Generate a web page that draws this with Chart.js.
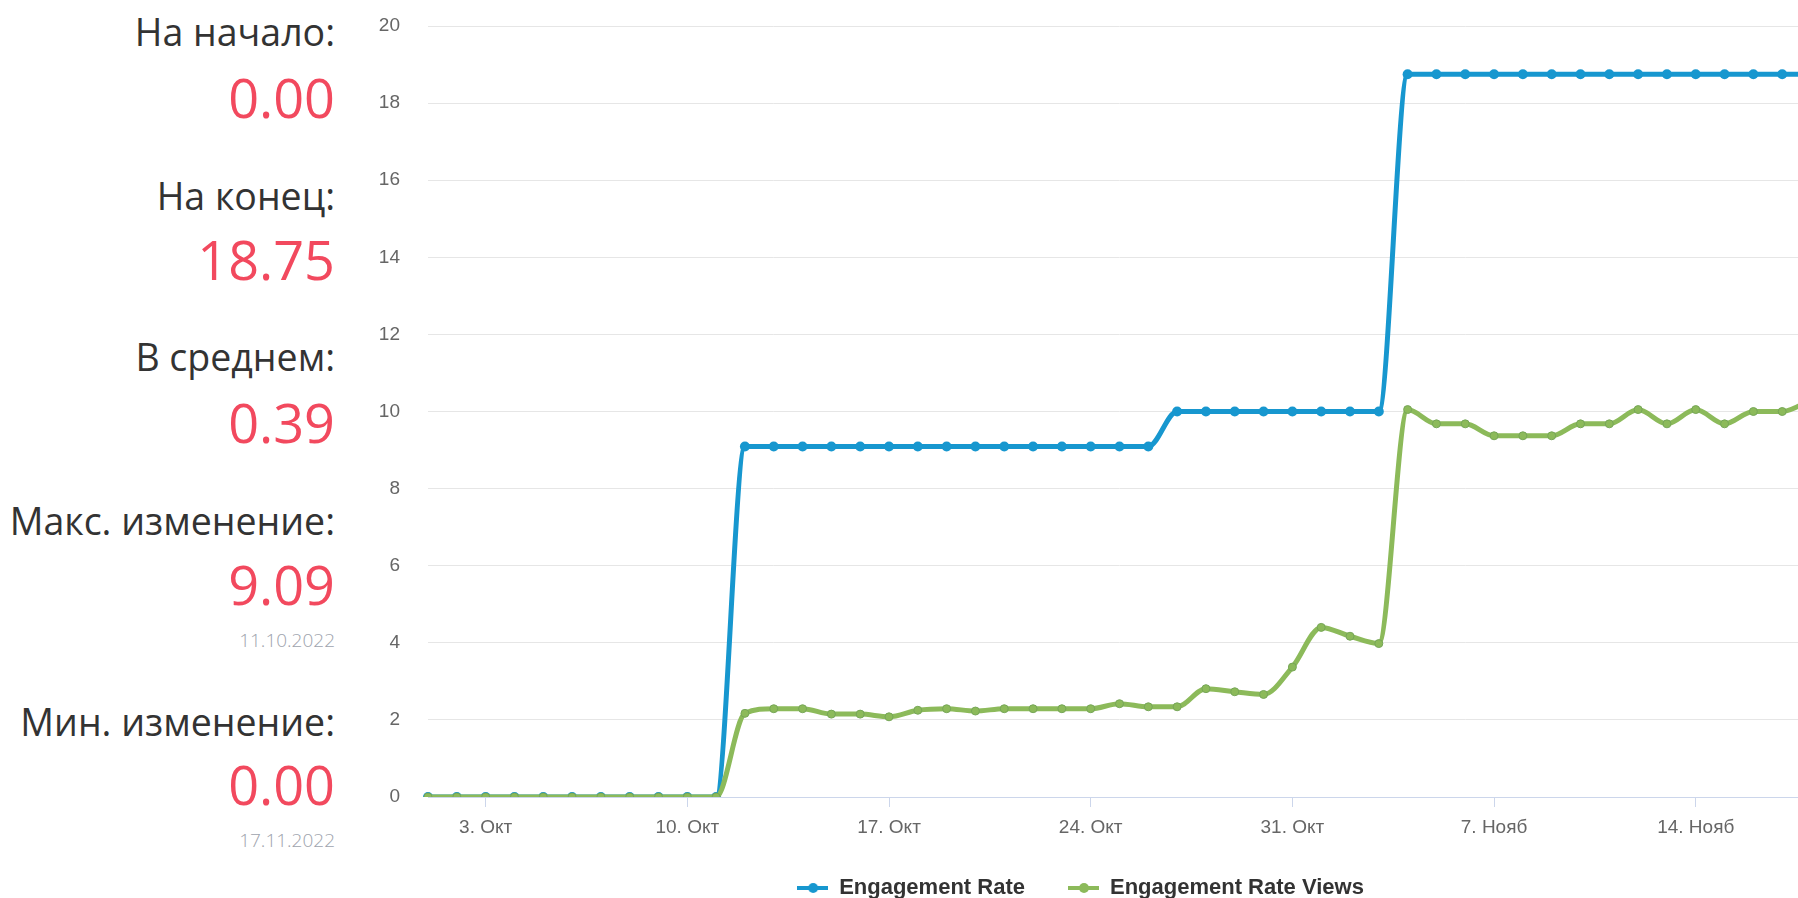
<!DOCTYPE html>
<html lang="ru">
<head>
<meta charset="utf-8">
<title>Engagement Rate</title>
<script src="https://cdn.jsdelivr.net/npm/chart.js@4.4.0/dist/chart.umd.min.js"></script>
<style>
  html, body { margin: 0; padding: 0; background: #fff; overflow: hidden; width: 1798px; height: 898px; }
  .stats { position: absolute; left: 0; top: 0; width: 335px; height: 898px; font-family: 'Open Sans', sans-serif; }
  .stats div { position: absolute; right: 0; white-space: nowrap; line-height: 1; }
  .lbl { font-size: 37.5px; color: #333; }
  .val { font-size: 54px; color: #f2495e; font-weight: 400; }
  .dt { font-size: 19px; color: #9ea3ad; font-weight: 300; }
  #wrap { position: absolute; left: 350px; top: 0; }
</style>
</head>
<body>
<div class="stats">
  <div class="lbl" style="top:13px">На начало:</div>
  <div class="val" style="top:70px">0.00</div>
  <div class="lbl" style="top:177px">На конец:</div>
  <div class="val" style="top:232px">18.75</div>
  <div class="lbl" style="top:338px">В среднем:</div>
  <div class="val" style="top:395px">0.39</div>
  <div class="lbl" style="top:502px">Макс. изменение:</div>
  <div class="val" style="top:557px">9.09</div>
  <div class="dt" style="top:631px">11.10.2022</div>
  <div class="lbl" style="top:703px">Мин. изменение:</div>
  <div class="val" style="top:757px">0.00</div>
  <div class="dt" style="top:831px">17.11.2022</div>
</div>
<div id="wrap"><canvas id="chart" width="1469" height="909"></canvas></div>
<script>
const days = [
  '1. Окт', '2. Окт', '3. Окт', '4. Окт', '5. Окт', '6. Окт', '7. Окт', '8. Окт', '9. Окт', '10. Окт',
  '11. Окт', '12. Окт', '13. Окт', '14. Окт', '15. Окт', '16. Окт', '17. Окт', '18. Окт', '19. Окт', '20. Окт',
  '21. Окт', '22. Окт', '23. Окт', '24. Окт', '25. Окт', '26. Окт', '27. Окт', '28. Окт', '29. Окт', '30. Окт',
  '31. Окт', '1. Нояб', '2. Нояб', '3. Нояб', '4. Нояб', '5. Нояб', '6. Нояб', '7. Нояб', '8. Нояб', '9. Нояб',
  '10. Нояб', '11. Нояб', '12. Нояб', '13. Нояб', '14. Нояб', '15. Нояб', '16. Нояб', '17. Нояб', '18. Нояб'
];
const tickDays = ['3. Окт', '10. Окт', '17. Окт', '24. Окт', '31. Окт', '7. Нояб', '14. Нояб'];
const yTicks = [0, 2, 4, 6, 8, 10, 12, 14, 16, 18, 20];

const engagementRate = [
  0, 0, 0, 0, 0, 0, 0, 0, 0, 0,
  0, 9.09, 9.09, 9.09, 9.09, 9.09, 9.09, 9.09, 9.09, 9.09,
  9.09, 9.09, 9.09, 9.09, 9.09, 9.09, 10, 10, 10, 10,
  10, 10, 10, 10, 18.75, 18.75, 18.75, 18.75, 18.75, 18.75,
  18.75, 18.75, 18.75, 18.75, 18.75, 18.75, 18.75, 18.75, 18.75
];
const engagementRateViews = [
  0, 0, 0, 0, 0, 0, 0, 0, 0, 0,
  0, 2.17, 2.29, 2.29, 2.15, 2.15, 2.08, 2.25, 2.29, 2.23,
  2.29, 2.29, 2.29, 2.29, 2.42, 2.34, 2.34, 2.81, 2.73, 2.66,
  3.37, 4.40, 4.17, 3.98, 10.05, 9.68, 9.68, 9.37, 9.37, 9.37,
  9.68, 9.68, 10.05, 9.68, 10.05, 9.68, 10.0, 10.0, 10.3
];

const BLUE = '#1797cf';
const GREEN = '#8cba5a';

function legendSymbol(color){
  const c = document.createElement('canvas');
  c.width = 31; c.height = 12;
  const g = c.getContext('2d');
  g.strokeStyle = color; g.lineWidth = 4;
  g.beginPath(); g.moveTo(0, 6); g.lineTo(31, 6); g.stroke();
  g.fillStyle = color;
  g.beginPath(); g.arc(16, 6, 5, 0, Math.PI * 2); g.fill();
  return c;
}
const symbols = [legendSymbol(BLUE), legendSymbol(GREEN)];

new Chart(document.getElementById('chart'), {
  type: 'line',
  data: {
    labels: days,
    datasets: [
      {
        label: 'Engagement Rate',
        data: engagementRate,
        borderColor: BLUE,
        backgroundColor: BLUE,
        borderWidth: 5,
        pointRadius: 5,
        pointBorderWidth: 0,
        cubicInterpolationMode: 'monotone',
        order: 1,
      },
      {
        label: 'Engagement Rate Views',
        data: engagementRateViews,
        borderColor: GREEN,
        backgroundColor: GREEN,
        pointBorderColor: '#76a658',
        borderWidth: 5,
        pointRadius: 4,
        pointBorderWidth: 1,
        cubicInterpolationMode: 'monotone',
        order: 0,
      },
    ],
  },
  options: {
    responsive: false,
    animation: false,
    layout: { padding: { top: 26, right: 8, left: 0, bottom: 0 } },
    plugins: {
      tooltip: { enabled: false },
      legend: {
        position: 'bottom',
        labels: {
          color: '#333333',
          font: { family: "'Liberation Sans', Arial, sans-serif", size: 22, weight: 'bold' },
          padding: 43,
          usePointStyle: true,
          pointStyleWidth: 31,
          boxWidth: 31,
          generateLabels: chart => chart.data.datasets.map((ds, i) => ({
            text: ds.label,
            fillStyle: ds.borderColor,
            strokeStyle: ds.borderColor,
            lineWidth: 0,
            pointStyle: symbols[i],
            hidden: !chart.isDatasetVisible(i),
            datasetIndex: i,
            fontColor: '#333333',
          })),
        },
      },
    },
    scales: {
      x: {
        offset: false,
        grid: { drawOnChartArea: false, drawTicks: true, tickLength: 10, color: '#ccd6eb' },
        border: { color: '#ccd6eb', width: 1 },
        ticks: {
          autoSkip: false,
          maxRotation: 0,
          padding: 9,
          color: '#666666',
          font: { family: "'Liberation Sans', Arial, sans-serif", size: 19 },
          callback: function(v, i){
            const d = days[i];
            return tickDays.includes(d) ? d : null;
          },
        },
        afterFit: s => { s.height = 37; },
      },
      y: {
        min: 0,
        max: 20,
        afterBuildTicks: s => { s.ticks = yTicks.map(v => ({ value: v })); },
        grid: { color: '#e6e6e6', drawTicks: true, tickLength: 25, tickColor: 'rgba(0,0,0,0)' },
        border: { display: false },
        ticks: {
          padding: 3,
          color: '#666666',
          font: { family: "'Liberation Sans', Arial, sans-serif", size: 19 },
        },
        afterFit: s => { s.width = 78; },
      },
    },
  },
});
</script>
</body>
</html>
